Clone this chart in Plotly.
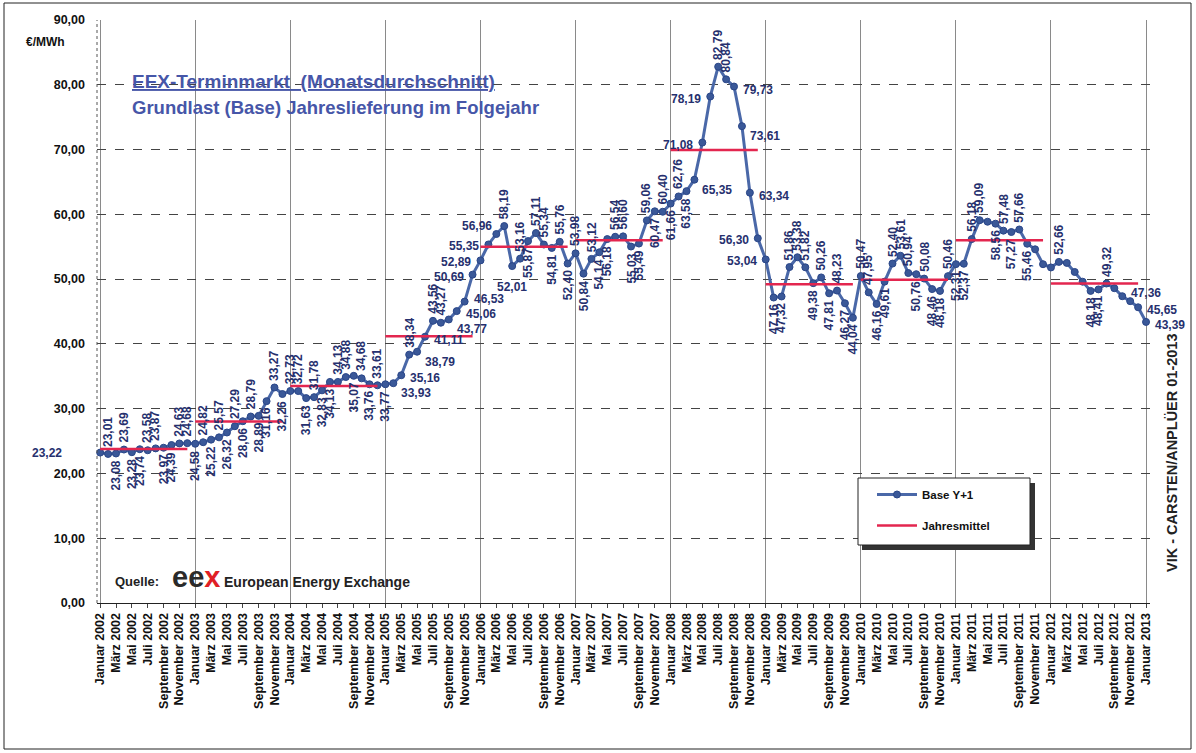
import plotly.graph_objects as go

# ---------------- data ----------------
monate = ["Januar", "Februar", "März", "April", "Mai", "Juni", "Juli",
          "August", "September", "Oktober", "November", "Dezember"]
jahre = list(range(2002, 2014))

base_2002 = [23.22, 23.01, 23.08, 23.69, 23.28, 23.74, 23.58, 23.87, 23.97, 24.39, 24.63, 24.68]
base_2003 = [24.58, 24.82, 25.22, 25.57, 26.32, 27.29, 28.06, 28.79, 28.89, 31.16, 33.27, 32.26]
base_2004 = [32.73, 32.72, 31.63, 31.78, 32.83, 34.13, 34.13, 34.88, 35.07, 34.68, 33.76, 33.61]
base_2005 = [33.77, 33.93, 35.16, 38.34, 38.79, 41.11, 43.56, 43.27, 43.77, 45.06, 46.53, 50.69]
base_2006 = [52.89, 55.35, 56.96, 58.19, 52.01, 53.16, 55.87, 57.11, 55.34, 54.81, 55.76, 52.40]
base_2007 = [53.98, 50.84, 53.12, 54.14, 56.18, 56.54, 56.60, 55.03, 55.49, 59.06, 60.47, 60.40]
base_2008 = [61.66, 62.76, 63.58, 65.35, 71.08, 78.19, 82.79, 80.84, 79.73, 73.61, 63.34, 56.30]
base_2009 = [53.04, 47.16, 47.32, 51.86, 53.38, 51.82, 49.38, 50.26, 47.81, 48.23, 46.27, 44.04]
base_2010 = [50.47, 47.95, 46.16, 49.61, 52.40, 53.61, 50.94, 50.76, 50.08, 48.46, 48.18, 50.46]
base_2011 = [52.31, 52.37, 56.18, 59.09, 58.86, 58.56, 57.48, 57.27, 57.66, 55.46, 54.60, 52.30]
base_2012 = [51.80, 52.66, 52.50, 51.10, 49.60, 48.18, 48.41, 49.32, 48.60, 47.36, 46.60, 45.65]
base_2013 = [43.39]

jahresmittel = [23.76, 28.02, 33.50, 41.17, 54.99, 55.99, 69.94, 49.21, 49.92, 56.01, 49.32]

# label placement per point (style only)
label_pos = ("Yababbaabbaa" +
             "bababababbab" +
             "aababbaababa" +
             "bRraRraaRrul" +
             "llLadabaabab" +
             "ababbaabbaba" +
             "babRllaarRrl" +
             "lbbaaabababb" +
             "aabbaaababba" +
             "bbaanbababnn" +
             "nannnbbanunr" +
             "r")

# ---------------- build ----------------
werte = (base_2002 + base_2003 + base_2004 + base_2005 + base_2006 + base_2007 +
         base_2008 + base_2009 + base_2010 + base_2011 + base_2012 + base_2013)
x_idx = list(range(len(werte)))
kategorien = [f"{monate[i % 12]} {jahre[i // 12]}" for i in x_idx]

tick_vals = [i for i in x_idx if i % 2 == 0]
tick_text = [kategorien[i] for i in tick_vals]
jan_vals = [i for i in x_idx if i % 12 == 0]

mx, my = [], []
for j, m in enumerate(jahresmittel):
    mx += [j * 12, j * 12 + 11, None]
    my += [m, m, None]

FONT = "Arial, 'Liberation Sans', sans-serif"
LBL = "#26306e"

fig = go.Figure()
fig.add_trace(go.Scatter(
    x=x_idx, y=werte, mode="lines+markers", name="<b>Base Y+1</b>",
    legendgroup="a",
    line=dict(color="#4a68a8", width=3),
    marker=dict(color="#3a5898", size=7, line=dict(color="#2a4688", width=1)),
    cliponaxis=False))
fig.add_trace(go.Scatter(
    x=mx, y=my, mode="lines", name="<b>Jahresmittel</b>", legendgroup="b",
    line=dict(color="#e3264f", width=2.5)))

ann = []
for i, (v, p) in enumerate(zip(werte, label_pos)):
    if p == "n":
        continue
    t = f"{v:.2f}".replace(".", ",")
    d = dict(x=i, y=v, xref="x", yref="y", text=f"<b>{t}</b>", showarrow=False,
             font=dict(family=FONT, size=12, color=LBL))
    if p == "a":
        d.update(textangle=-90, xanchor="center", yanchor="bottom", yshift=5)
    elif p == "b":
        d.update(textangle=-90, xanchor="center", yanchor="top", yshift=-5)
    elif p == "r":
        d.update(xanchor="left", yanchor="middle", xshift=7, yshift=-3)
    elif p == "u":
        d.update(xanchor="left", yanchor="middle", xshift=7, yshift=3)
    elif p == "R":
        d.update(xanchor="left", yanchor="middle", xshift=6, yshift=-10)
    elif p == "l":
        d.update(xanchor="right", yanchor="middle", xshift=-7, yshift=-2)
    elif p == "L":
        d.update(xanchor="right", yanchor="middle", xshift=-2, yshift=8)
    elif p == "d":
        d.update(xanchor="center", yanchor="top", yshift=-12)
    elif p == "Y":
        d.update(xanchor="right", yanchor="middle", xshift=-36)
    ann.append(d)

def px(xp):
    return (xp - 97) / 1053.0

def py(yp):
    return (603 - yp) / 583.0

ann += [
    dict(x=px(130), y=py(81), xref="paper", yref="paper", xanchor="left", yanchor="middle",
         text="<b><u>EEX-Terminmarkt&nbsp;&nbsp;(Monatsdurchschnitt)</u></b>", showarrow=False,
         font=dict(family=FONT, size=19, color="#4656a8")),
    dict(x=px(130), y=py(108), xref="paper", yref="paper", xanchor="left", yanchor="middle",
         text="<b>Grundlast (Base) Jahreslieferung im Folgejahr</b>", showarrow=False,
         font=dict(family=FONT, size=18.5, color="#4656a8")),
    dict(x=px(24), y=py(42), xref="paper", yref="paper", xanchor="left", yanchor="middle",
         text="<b>€/MWh</b>", showarrow=False, font=dict(family=FONT, size=12, color="#111")),
    dict(x=px(113), y=py(581), xref="paper", yref="paper", xanchor="left", yanchor="middle",
         text="<b>Quelle:</b>", showarrow=False, font=dict(family=FONT, size=13, color="#222")),
    dict(x=px(170), y=py(577), xref="paper", yref="paper", xanchor="left", yanchor="middle",
         text="<b><span style='color:#2a2a2a'>ee</span><span style='color:#e01f26'>x</span></b>",
         showarrow=False, font=dict(family=FONT, size=29, color="#2a2a2a")),
    dict(x=px(222), y=py(582), xref="paper", yref="paper", xanchor="left", yanchor="middle",
         text="<b>European Energy Exchange</b>", showarrow=False,
         font=dict(family=FONT, size=14, color="#222")),
    dict(x=px(1172), y=py(453), xref="paper", yref="paper", xanchor="center", yanchor="middle",
         text="<b>VIK - CARSTEN/ANPLÜER 01-2013</b>", textangle=-90, showarrow=False,
         font=dict(family=FONT, size=14.5, color="#222")),
]

shapes = [
    # outer frame
    dict(type="rect", xref="paper", yref="paper", x0=px(4), x1=px(1191), y0=py(749), y1=py(3),
         line=dict(color="#222", width=1), fillcolor="rgba(0,0,0,0)", layer="above"),
    # left axis dotted
    dict(type="line", xref="paper", yref="paper", x0=0, x1=0, y0=0, y1=1,
         line=dict(color="#555", width=1, dash="dot")),
    # legend shadow + box
    dict(type="rect", xref="paper", yref="paper", x0=px(862), x1=px(1035), y0=py(550), y1=py(483),
         line=dict(width=0), fillcolor="#333", layer="above"),
    dict(type="rect", xref="paper", yref="paper", x0=px(858), x1=px(1030), y0=py(545), y1=py(478),
         line=dict(color="#222", width=1), fillcolor="white", layer="above"),
]

fig.update_layout(
    width=1196, height=753,
    margin=dict(l=97, r=46, t=20, b=150),
    paper_bgcolor="white", plot_bgcolor="white",
    separators=",.",
    font=dict(family=FONT, color="#111"),
    showlegend=True,
    legend=dict(x=px(872), y=py(480), xanchor="left", yanchor="top",
                bgcolor="rgba(0,0,0,0)", borderwidth=0,
                font=dict(family=FONT, size=11.5, color="#111"),
                itemwidth=40, tracegroupgap=12, traceorder="grouped"),
    annotations=ann,
    shapes=shapes,
    xaxis=dict(range=[-0.4, 132.5], tickmode="array", tickvals=tick_vals,
               ticktext=[f"<b>{t}</b>" for t in tick_text],
               tickangle=-90, tickfont=dict(family=FONT, size=12.5, color="#111"),
               showgrid=False, zeroline=False, showline=True, linecolor="#222", linewidth=1,
               ticks="outside", ticklen=4, tickcolor="#444",
               minor=dict(tickmode="array", tickvals=jan_vals, showgrid=True,
                          gridcolor="#8a8a8a", gridwidth=1, ticks="")),
    yaxis=dict(range=[0, 90], tickmode="linear", tick0=0, dtick=10, tickformat=".2f",
               tickfont=dict(family=FONT, size=12.5, color="#111"),
               tickprefix="<b>", ticksuffix="</b>",
               showgrid=True, gridcolor="#444", gridwidth=1, griddash="dash",
               zeroline=False, showline=False, ticks="", ticklabelstandoff=11),
)

fig.write_html("out.html")
